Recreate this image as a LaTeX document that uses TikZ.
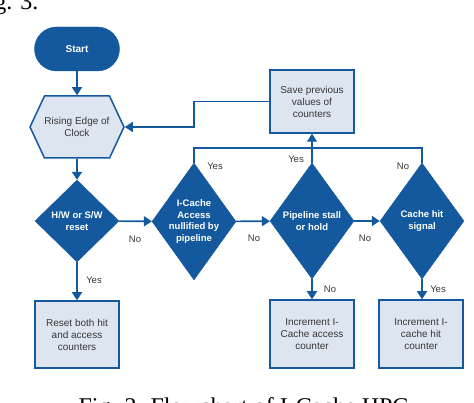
\documentclass[tikz,border=0pt]{standalone}
\usepackage{fontspec}
\setmainfont{Liberation Serif}
\setsansfont{Liberation Sans}
\usepackage{tikz}
\usetikzlibrary{arrows.meta,shapes.geometric,shapes.symbols,calc}
\definecolor{hpcblue}{RGB}{20,88,158}
\definecolor{hpcfill}{RGB}{221,229,240}
\definecolor{hpctext}{RGB}{55,55,55}

\begin{document}
\begin{tikzpicture}[x=1pt, y=-1pt,
  term/.style={draw=hpcblue, fill=hpcblue, rounded corners=22pt,
    minimum width=85pt, minimum height=44pt, text=white,
    font=\sffamily\bfseries\fontsize{10}{12}\selectfont},
  clock/.style={signal, signal to=west and east, signal pointer angle=130,
    draw=hpcblue, line width=1.5pt, fill=hpcfill, inner sep=0pt,
    minimum width=83pt, minimum height=62pt, text=hpctext,
    font=\sffamily\fontsize{10}{12}\selectfont, align=center},
  dec/.style={diamond, draw=hpcblue, fill=hpcblue, inner sep=0pt,
    minimum width=84pt, text=white, align=center,
    font=\sffamily\bfseries\fontsize{9.5}{11.5}\selectfont},
  box/.style={draw=hpcblue, line width=1.5pt, fill=hpcfill,
    minimum width=84pt, minimum height=66pt, text=hpctext, align=center,
    font=\sffamily\fontsize{10}{12}\selectfont},
  arr/.style={-{Triangle[width=10pt,length=8pt]}, line width=1.6pt, hpcblue},
  link/.style={line width=1.6pt, hpcblue},
  lbl/.style={text=hpctext, inner sep=1pt,
    font=\sffamily\fontsize{9.5}{11}\selectfont},
  figcap/.style={font=\fontsize{24}{28}\selectfont},
]
\useasboundingbox (0,0) rectangle (474,403);

%% Captions cut by the page
\node[figcap, anchor=base east] (prev) at (42,9.5) {Fig. 3.};
\node[figcap, anchor=base west] (caption) at (75,414) {Fig. 2. Flowchart of I-Cache HPC};

%% Left column
\node[term]  (start) at (77,49)   {Start};
\node[clock] (clk)   at (77,127)  {Rising Edge of\\Clock};
\node[dec, minimum height=82pt] (d1) at (77,221) {H/W or S/W\\reset};
\node[box, minimum height=67pt] (reset) at (77,334.5) {Reset both hit\\and access\\counters};

%% Decisions
\node[dec, minimum height=117pt, aspect=0.72] (d2) at (194,221.5) {I-Cache\\Access\\nullified by\\pipeline};
\node[dec, minimum height=116pt, aspect=0.72] (d3) at (312,221) {Pipeline stall\\or hold};
\node[dec, minimum height=116pt, aspect=0.72] (d4) at (422,221) {Cache hit\\signal};

%% Actions
\node[box, minimum height=63pt] (save) at (312,101.5) {Save previous\\values of\\counters};
\node[box, minimum height=68pt] (inc1) at (312,334) {Increment I-\\Cache access\\counter};
\node[box, minimum height=68pt] (inc2) at (421,334) {Increment I-\\cache hit\\counter};

%% Connections
\draw[arr] (start) -- (clk);
\draw[arr] (clk) -- (d1);
\draw[arr] (d1) -- (reset);
\draw[arr] (d1) -- (d2);
\draw[arr] (d2) -- (d3);
\draw[arr] (d3) -- (d4);
\draw[arr] (d3) -- (inc1);
\draw[arr] (d4.south) -- (d4.south |- inc2.north);

\coordinate (join) at (312,148);
\draw[link] (d2.north) |- (join);
\draw[link] (d4.north) |- (join);
\draw[arr] (d3.north) -- (save.south);
\draw[arr] (save.west) -| (clk.east -| d2.north) -- (clk.east);

%% Labels
\node[lbl] (l1) at (94,280)  {Yes};
\node[lbl] (l2) at (135,239) {No};
\node[lbl] (l3) at (254,238) {No};
\node[lbl] (l4) at (365,238) {No};
\node[lbl] (l5) at (215,166) {Yes};
\node[lbl] (l6) at (296,159) {Yes};
\node[lbl] (l7) at (403,166) {No};
\node[lbl] (l8) at (330,289) {No};
\node[lbl] (l9) at (438,289) {Yes};

\end{tikzpicture}
\end{document}
